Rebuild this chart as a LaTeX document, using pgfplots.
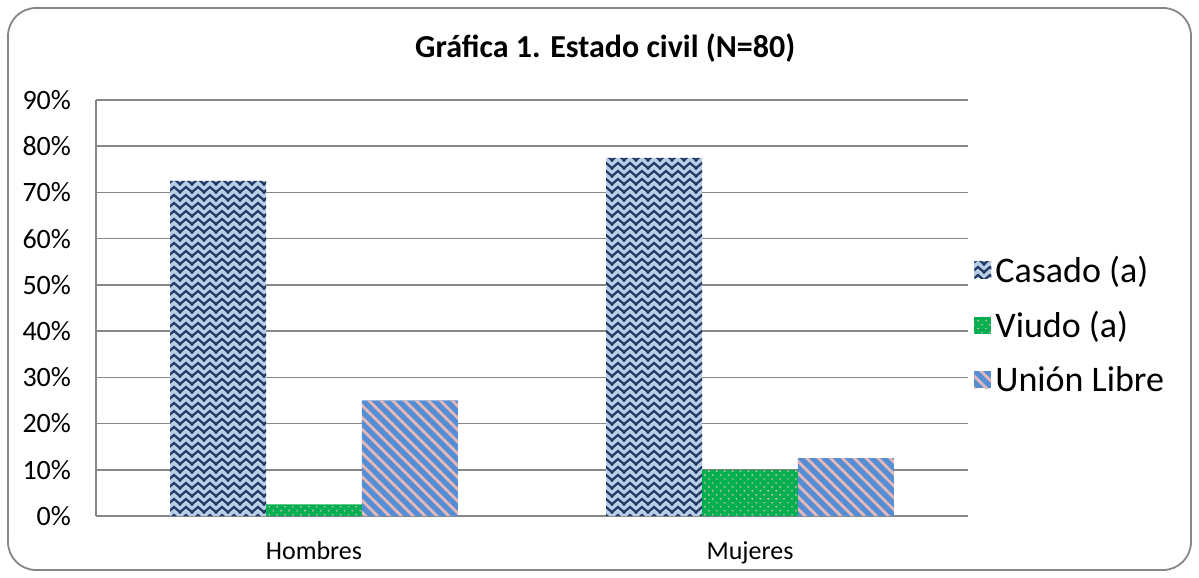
\documentclass[border=0pt]{standalone}
\usepackage{pgfplots}
\pgfplotsset{compat=1.18}
\usepackage{fontspec}
\setmainfont{Carlito}
\usetikzlibrary{patterns,patterns.meta}

\definecolor{casadobg}{HTML}{B9CDE5}
\definecolor{casadofg}{HTML}{1F3864}
\definecolor{viudobg}{HTML}{00B050}
\definecolor{unionbg}{HTML}{558ED5}
\definecolor{rosa}{HTML}{E6B9B8}
\definecolor{rejilla}{HTML}{868686}

% zigzag for the Casado bars
\pgfdeclarepatternformonly{zigzag}{\pgfpoint{-1pt}{-1pt}}{\pgfpoint{7pt}{5pt}}{\pgfpoint{6pt}{4pt}}{
  \pgfsetlinewidth{1.1pt}
  \pgfpathmoveto{\pgfpoint{-0.5pt}{0.5pt}}
  \pgfpathlineto{\pgfpoint{3pt}{3.5pt}}
  \pgfpathlineto{\pgfpoint{6.5pt}{0.5pt}}
  \pgfusepath{stroke}
}

\begin{document}
\begin{tikzpicture}
  \path[use as bounding box] (-48pt,-31pt) rectangle (551.5pt,258pt);
  \draw[rejilla, line width=0.9pt, rounded corners=14pt] (-44pt,-27pt) rectangle (547.5pt,254pt);
  \begin{axis}[
      at={(0,0)}, anchor=south west,
      scale only axis,
      width=436pt, height=208pt,
      ybar=0pt, bar width=0.22,
      xmin=-0.5, xmax=1.5,
      ymin=0, ymax=90,
      xtick={0,1}, xticklabels={Hombres,Mujeres},
      ytick={0,10,...,90},
      yticklabel={\pgfmathprintnumber{\tick}\%},
      /pgf/number format/assume math mode=true,
      ymajorgrids,
      grid style={rejilla, line width=0.8pt},
      axis x line*=bottom, axis y line*=left,
      axis line style={rejilla, line width=0.8pt},
      tick style={draw=none},
      yticklabel style={font=\fontsize{14}{16}\selectfont, xshift=-9pt},
      xticklabel style={font=\fontsize{13}{15}\selectfont, yshift=-5pt},
      title={\textbf{Gráfica 1. Estado civil (N=80)}},
      title style={font=\fontsize{16}{19}\selectfont, at={(0.584,1)}, anchor=center, yshift=20pt},
      legend style={at={(1.0,0.459)}, anchor=west, draw=none,
                    font=\fontsize{18}{21}\selectfont,
                    row sep=9pt},
      legend cell align=left,
      legend image code/.code={
        \path[#1] (0pt,-4pt) rectangle (8.5pt,4.5pt);
      },
    ]
    \addplot[draw=none, fill=casadobg, postaction={pattern=zigzag, pattern color=casadofg}]
      coordinates {(0,72.5) (1,77.5)};
    \addplot[draw=none, fill=viudobg, postaction={pattern={Dots[distance=2.8pt, angle=45, radius=0.5pt]}, pattern color=rosa}]
      coordinates {(0,2.5) (1,10)};
    \addplot[draw=none, fill=unionbg, postaction={pattern={Lines[angle=-45, distance=4.2pt, line width=1.4pt]}, pattern color=rosa}]
      coordinates {(0,25) (1,12.5)};
    \legend{Casado (a), Viudo (a), Unión Libre}
  \end{axis}
\end{tikzpicture}
\end{document}
